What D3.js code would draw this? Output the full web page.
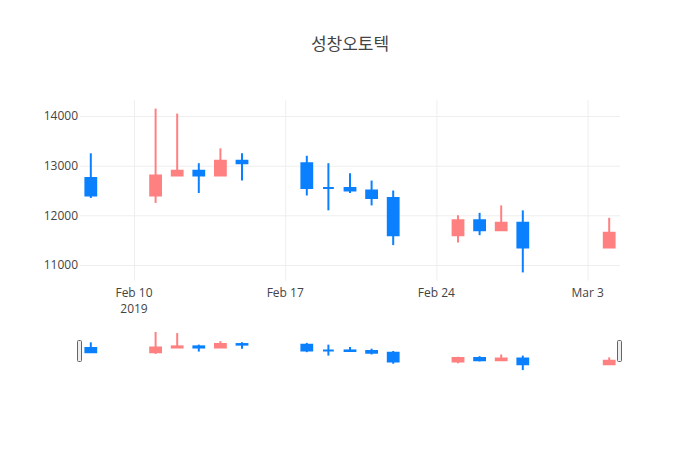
<!DOCTYPE html>
<html>
<head>
<meta charset="utf-8">
<script src="https://d3js.org/d3.v7.min.js"></script>
<style>
  body { margin: 0; background: #fff; }
  text { font-family: "Open Sans", "Noto Sans CJK KR", sans-serif; }
</style>
</head>
<body>
<div class="chart"></div>
<script>
var w = 700;
var h = 450;

// 성창오토텍 daily prices, Feb - Mar 2019
var dates = ["2019-02-08", "2019-02-11", "2019-02-12", "2019-02-13", "2019-02-14", "2019-02-15",
             "2019-02-18", "2019-02-19", "2019-02-20", "2019-02-21", "2019-02-22",
             "2019-02-25", "2019-02-26", "2019-02-27", "2019-02-28", "2019-03-04"];
var open  = [12750, 12400, 12800, 12900, 12800, 13100, 13050, 12550, 12550, 12500, 12350, 11600, 11900, 11700, 11850, 11350];
var high  = [13250, 14150, 14050, 13050, 13350, 13250, 13200, 13050, 12850, 12700, 12500, 12000, 12050, 12200, 12100, 11950];
var low   = [12350, 12250, 12800, 12450, 12800, 12700, 12400, 12100, 12450, 12200, 11400, 11450, 11600, 11700, 10850, 11350];
var close = [12400, 12800, 12900, 12800, 13100, 13050, 12550, 12550, 12500, 12350, 11600, 11900, 11700, 11850, 11350, 11650];

var yTicks = [11000, 12000, 13000, 14000];
var xTickDates = ["2019-02-10", "2019-02-17", "2019-02-24", "2019-03-03"];
var xTickLabels = [["Feb 10", "2019"], ["Feb 17"], ["Feb 24"], ["Mar 3"]];

var upColor = "#ff8080";
var downColor = "#0a80ff";

var parse = d3.timeParse("%Y-%m-%d");
var day = 24 * 3600 * 1000;

var data = dates.map(function (d, i) {
    return { date: parse(d), o: open[i], h: high[i], l: low[i], c: close[i] };
});

var plot = { left: 80, right: 620, top: 100.4, bottom: 280.6 };
var slider = { top: 330, bottom: 372 };

// autorange like plotly: half a day padding on x, 5% on y
var x0 = d3.min(data, function (d) { return d.date; });
var x1 = d3.max(data, function (d) { return d.date; });
var yMin = d3.min(low);
var yMax = d3.max(high);
var pad = (yMax - yMin) * 0.05;

var xScale = d3.scaleTime()
                .domain([new Date(+x0 - day / 2), new Date(+x1 + day / 2)])
                .range([plot.left, plot.right]);

var yScale = d3.scaleLinear()
                .domain([yMin - pad, yMax + pad])
                .range([plot.bottom, plot.top]);

var ySlider = d3.scaleLinear()
                .domain([yMin - pad, yMax + pad])
                .range([slider.bottom, slider.top]);

var svg = d3.select(".chart")
            .append("svg")
            .attr("width", w)
            .attr("height", h);

svg.append("rect")
    .attr("width", w)
    .attr("height", h)
    .attr("fill", "#fff");

// grid
svg.append("g")
    .attr("transform", "translate(0," + plot.bottom + ")")
    .call(d3.axisBottom(xScale)
        .tickValues(xTickDates.map(parse))
        .tickSize(-(plot.bottom - plot.top))
        .tickFormat(""))
    .call(function (g) { g.select(".domain").remove(); })
    .selectAll("line")
    .attr("stroke", "#eee");

svg.append("g")
    .attr("transform", "translate(" + plot.left + ",0)")
    .call(d3.axisLeft(yScale)
        .tickValues(yTicks)
        .tickSize(-(plot.right - plot.left))
        .tickPadding(2)
        .tickFormat(d3.format("d")))
    .call(function (g) { g.select(".domain").remove(); })
    .call(function (g) {
        g.selectAll("line").attr("stroke", "#eee");
        g.selectAll("text")
            .attr("fill", "#444")
            .attr("font-size", "12px")
            .attr("font-family", "'Open Sans', sans-serif");
    });

// x tick labels (plotly puts the year under the first one)
var xLab = svg.append("g")
    .selectAll("text")
    .data(xTickDates)
    .enter()
    .append("text")
    .attr("x", function (d) { return xScale(parse(d)); })
    .attr("y", 297)
    .attr("text-anchor", "middle")
    .attr("font-size", "12px")
    .attr("fill", "#444");

xLab.selectAll("tspan")
    .data(function (d, i) { return xTickLabels[i]; })
    .enter()
    .append("tspan")
    .attr("x", function () { return this.parentNode.getAttribute("x"); })
    .attr("dy", function (d, i) { return i == 0 ? 0 : 16; })
    .text(function (d) { return d; });

function drawCandles(g, ys) {
    var half = xScale(new Date(+x0 + day / 4)) - xScale(x0);
    var c = g.selectAll("g.candle")
        .data(data)
        .enter()
        .append("g")
        .attr("class", "candle")
        .attr("stroke", function (d) { return d.c > d.o ? upColor : downColor; })
        .attr("fill", function (d) { return d.c > d.o ? upColor : downColor; })
        .attr("stroke-width", 2);

    c.append("line")
        .attr("x1", function (d) { return xScale(d.date); })
        .attr("x2", function (d) { return xScale(d.date); })
        .attr("y1", function (d) { return ys(d.h); })
        .attr("y2", function (d) { return ys(d.l); });

    // body as a path so a flat (open == close) day still shows a bar
    c.append("path")
        .attr("d", function (d) {
            var xl = xScale(d.date) - half;
            var xr = xScale(d.date) + half;
            return "M" + xl + "," + ys(d.o) + "H" + xr + "V" + ys(d.c) + "H" + xl + "Z";
        });
}

drawCandles(svg.append("g"), yScale);

// range slider
var sl = svg.append("g");
drawCandles(sl, ySlider);

var handleH = Math.round((slider.bottom - slider.top) / 2);
var handleY = (slider.top + slider.bottom) / 2 - handleH / 2;

sl.selectAll("rect.handle")
    .data([plot.left, plot.right])
    .enter()
    .append("rect")
    .attr("class", "handle")
    .attr("x", function (d) { return d - 2.5; })
    .attr("y", handleY)
    .attr("width", 4)
    .attr("height", handleH)
    .attr("rx", 1)
    .attr("fill", "#eee")
    .attr("stroke", "#666")
    .attr("stroke-width", 1);

// title
svg.append("text")
    .attr("x", w / 2)
    .attr("y", 50)
    .attr("text-anchor", "middle")
    .attr("font-size", "17px")
    .attr("fill", "#444")
    .attr("font-family", "'Noto Sans CJK KR', 'Open Sans', sans-serif")
    .text("성창오토텍");
</script>
</body>
</html>
